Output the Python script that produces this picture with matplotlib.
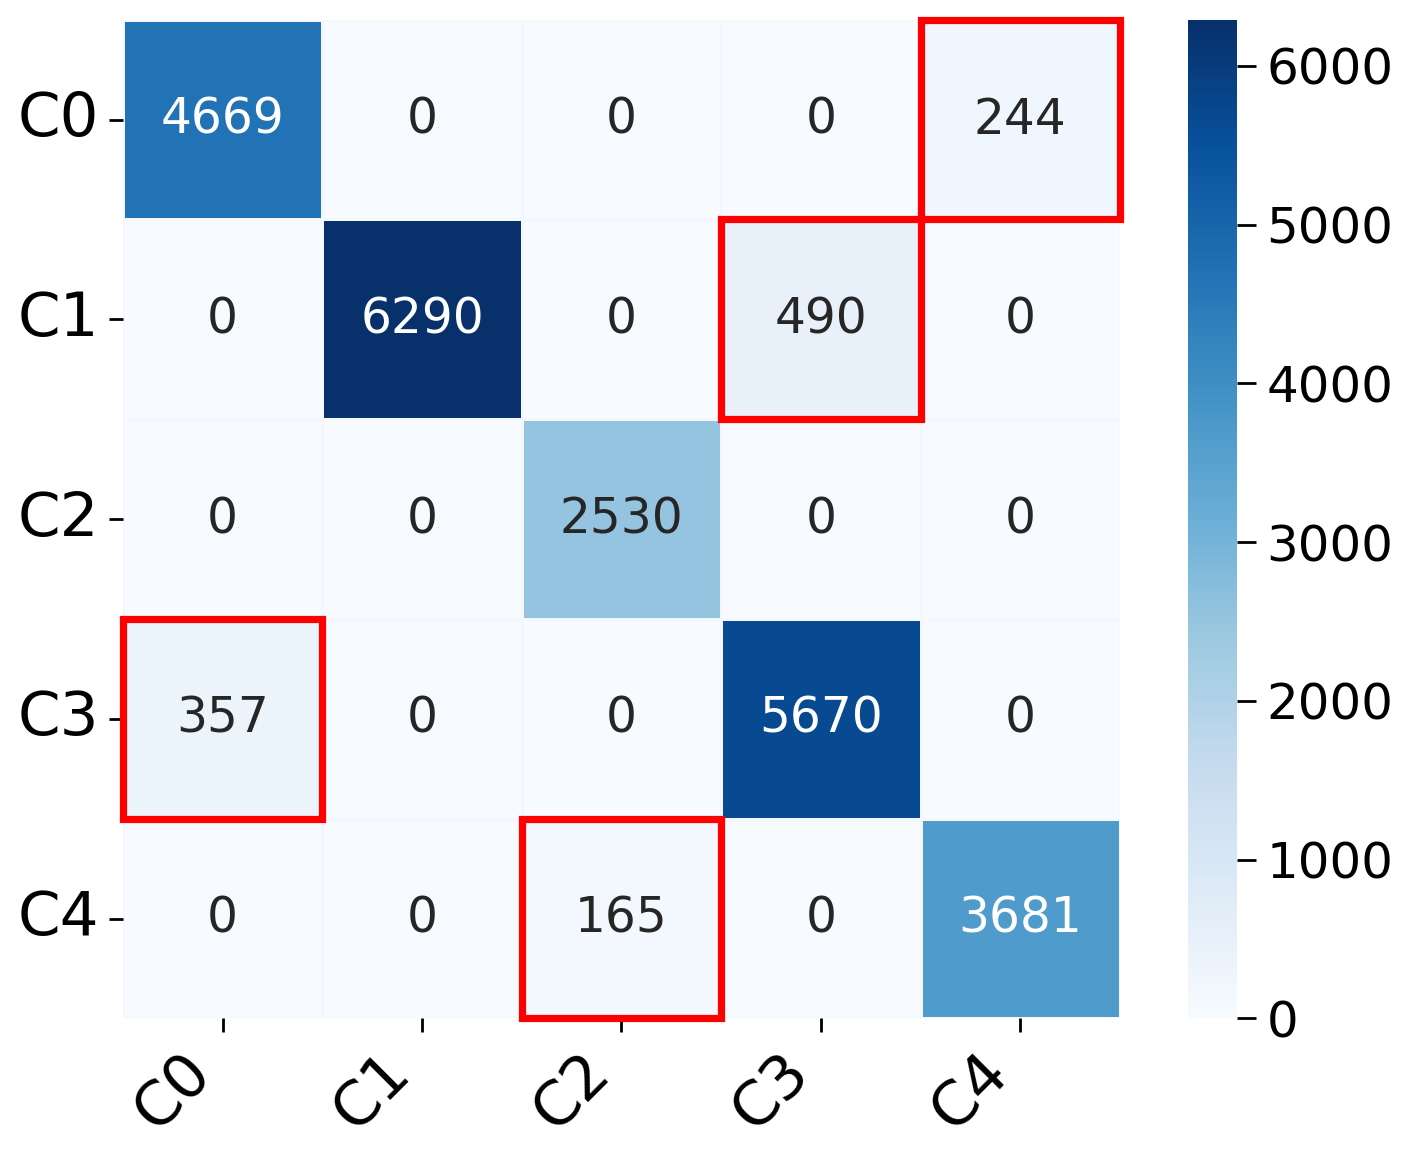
import matplotlib
matplotlib.use("Agg")
import matplotlib.pyplot as plt
from matplotlib.patches import Rectangle
import numpy as np
import seaborn as sns

labels = ["C0", "C1", "C2", "C3", "C4"]
counts = np.array([
    [4669, 0, 0, 0, 244],
    [0, 6290, 0, 490, 0],
    [0, 0, 2530, 0, 0],
    [357, 0, 0, 5670, 0],
    [0, 0, 165, 0, 3681],
])
# (row, col) cells outlined in red
highlight = [(0, 4), (1, 3), (3, 0), (4, 2)]

fig = plt.figure(figsize=(7.07, 5.8), dpi=200)
ax = fig.add_axes([0.087, 0.122, 0.705, 0.861])
cax = fig.add_axes([0.840, 0.122, 0.035, 0.861])

sns.heatmap(counts, annot=True, fmt="d", cmap="Blues", ax=ax, cbar_ax=cax,
            linewidths=0.4, linecolor="#f4f8fc",
            annot_kws={"fontsize": 17.5},
            xticklabels=labels, yticklabels=labels)

ax.tick_params(axis="both", labelsize=22, length=5, width=1)
ax.set_xticklabels(labels, rotation=45, ha="right")
ax.set_yticklabels(labels, rotation=0)

cax.tick_params(labelsize=18, length=7, width=1)
cax.set_yticks([0, 1000, 2000, 3000, 4000, 5000, 6000])

for r, c in highlight:
    ax.add_patch(Rectangle((c, r), 1, 1, fill=False, edgecolor="red",
                           lw=2.6, clip_on=False, zorder=5))

fig.savefig("out.png", dpi=200)
